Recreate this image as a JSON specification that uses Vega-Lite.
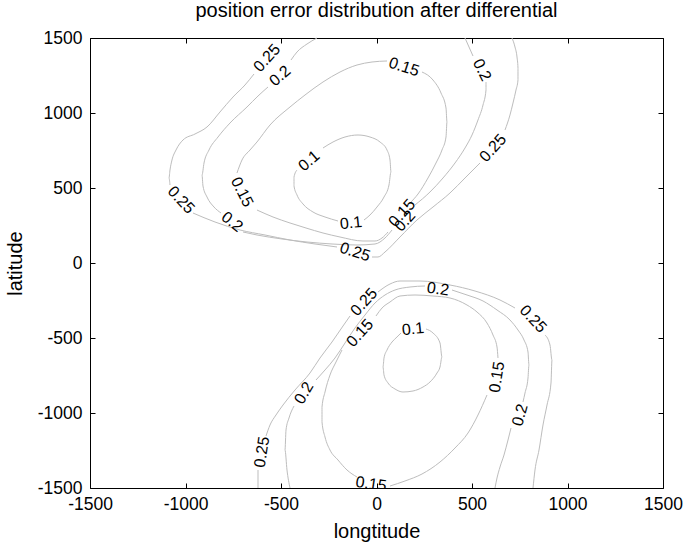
{
  "$schema": "https://vega.github.io/schema/vega-lite/v6.json",
  "width": 573,
  "height": 450,
  "autosize": {"type": "none"},
  "padding": {"left": 90, "top": 38, "right": 23, "bottom": 60},
  "background": "white",
  "config": {
    "font": "Liberation Sans",
    "view": {"stroke": "black", "strokeWidth": 1},
    "axis": {"domain": false, "grid": false, "tickColor": "black", "tickSize": -5, "tickWidth": 1, "labelColor": "black", "labelFontSize": 17.5, "titleFontSize": 20, "titleFontWeight": "normal", "titleColor": "black", "labelFont": "Liberation Sans", "titleFont": "Liberation Sans", "labelExpr": "toString(datum.value)"},
    "title": {"fontSize": 20, "fontWeight": "normal", "font": "Liberation Sans", "color": "black", "offset": 8}
  },
  "title": "position error distribution after differential",
  "datasets": {
    "lines": [
      {"c": "U25a", "i": 0, "x": -641.4, "y": 1260}, {"c": "U25a", "i": 1, "x": -688.5, "y": 1186.7}, {"c": "U25a", "i": 2, "x": -751.3, "y": 1106.7}, {"c": "U25a", "i": 3, "x": -819.4, "y": 1006.7}, {"c": "U25a", "i": 4, "x": -887.4, "y": 906.7}, {"c": "U25a", "i": 5, "x": -950.3, "y": 860}, {"c": "U25a", "i": 6, "x": -1013.1, "y": 820}, {"c": "U25a", "i": 7, "x": -1049.7, "y": 753.3}, {"c": "U25a", "i": 8, "x": -1070.7, "y": 686.7}, {"c": "U25a", "i": 9, "x": -1081.2, "y": 620}, {"c": "U25a", "i": 10, "x": -1086.4, "y": 566.7}, {"c": "U25a", "i": 11, "x": -1081.2, "y": 520},
      {"c": "U25b", "i": 0, "x": -960.7, "y": 333.3}, {"c": "U25b", "i": 1, "x": -845.5, "y": 273.3}, {"c": "U25b", "i": 2, "x": -714.7, "y": 220}, {"c": "U25b", "i": 3, "x": -583.8, "y": 186.7}, {"c": "U25b", "i": 4, "x": -452.9, "y": 153.3}, {"c": "U25b", "i": 5, "x": -322, "y": 126.7}, {"c": "U25b", "i": 6, "x": -206.8, "y": 106.7},
      {"c": "U25c", "i": 0, "x": -23.6, "y": 40}, {"c": "U25c", "i": 1, "x": 7.9, "y": 40}, {"c": "U25c", "i": 2, "x": 44.5, "y": 73.3}, {"c": "U25c", "i": 3, "x": 123, "y": 173.3}, {"c": "U25c", "i": 4, "x": 212, "y": 286.7}, {"c": "U25c", "i": 5, "x": 295.8, "y": 373.3}, {"c": "U25c", "i": 6, "x": 384.8, "y": 466.7}, {"c": "U25c", "i": 7, "x": 463.4, "y": 566.7}, {"c": "U25c", "i": 8, "x": 541.9, "y": 666.7},
      {"c": "U25d", "i": 0, "x": 672.8, "y": 886.7}, {"c": "U25d", "i": 1, "x": 698.9, "y": 986.7}, {"c": "U25d", "i": 2, "x": 714.7, "y": 1066.7}, {"c": "U25d", "i": 3, "x": 730.4, "y": 1153.3}, {"c": "U25d", "i": 4, "x": 740.8, "y": 1220}, {"c": "U25d", "i": 5, "x": 740.8, "y": 1300}, {"c": "U25d", "i": 6, "x": 735.6, "y": 1373.3}, {"c": "U25d", "i": 7, "x": 725.1, "y": 1440}, {"c": "U25d", "i": 8, "x": 709.4, "y": 1500},
      {"c": "U20a", "i": 0, "x": -311.5, "y": 1500}, {"c": "U20a", "i": 1, "x": -363.9, "y": 1460}, {"c": "U20a", "i": 2, "x": -416.2, "y": 1406.7}, {"c": "U20a", "i": 3, "x": -447.6, "y": 1353.3},
      {"c": "U20b", "i": 0, "x": -568.1, "y": 1173.3}, {"c": "U20b", "i": 1, "x": -620.4, "y": 1113.3}, {"c": "U20b", "i": 2, "x": -678, "y": 1040}, {"c": "U20b", "i": 3, "x": -767, "y": 933.3}, {"c": "U20b", "i": 4, "x": -829.8, "y": 840}, {"c": "U20b", "i": 5, "x": -877, "y": 753.3}, {"c": "U20b", "i": 6, "x": -903.1, "y": 666.7}, {"c": "U20b", "i": 7, "x": -913.6, "y": 586.7}, {"c": "U20b", "i": 8, "x": -908.4, "y": 513.3}, {"c": "U20b", "i": 9, "x": -887.4, "y": 440}, {"c": "U20b", "i": 10, "x": -850.8, "y": 373.3}, {"c": "U20b", "i": 11, "x": -814.1, "y": 333.3},
      {"c": "U20c", "i": 0, "x": -698.9, "y": 206.7}, {"c": "U20c", "i": 1, "x": -625.7, "y": 186.7}, {"c": "U20c", "i": 2, "x": -494.8, "y": 160}, {"c": "U20c", "i": 3, "x": -363.9, "y": 140}, {"c": "U20c", "i": 4, "x": -233, "y": 126.7}, {"c": "U20c", "i": 5, "x": -102.1, "y": 120}, {"c": "U20c", "i": 6, "x": -7.9, "y": 126.7}, {"c": "U20c", "i": 7, "x": 44.5, "y": 166.7}, {"c": "U20c", "i": 8, "x": 81.2, "y": 220},
      {"c": "U20d", "i": 0, "x": 201.6, "y": 386.7}, {"c": "U20d", "i": 1, "x": 280.1, "y": 473.3}, {"c": "U20d", "i": 2, "x": 348.2, "y": 566.7}, {"c": "U20d", "i": 3, "x": 411, "y": 666.7}, {"c": "U20d", "i": 4, "x": 463.4, "y": 766.7}, {"c": "U20d", "i": 5, "x": 500, "y": 853.3}, {"c": "U20d", "i": 6, "x": 531.4, "y": 953.3}, {"c": "U20d", "i": 7, "x": 557.6, "y": 1053.3}, {"c": "U20d", "i": 8, "x": 573.3, "y": 1153.3}, {"c": "U20d", "i": 9, "x": 573.3, "y": 1206.7},
      {"c": "U20e", "i": 0, "x": 505.2, "y": 1380}, {"c": "U20e", "i": 1, "x": 484.3, "y": 1440}, {"c": "U20e", "i": 2, "x": 463.4, "y": 1500},
      {"c": "U15a", "i": 0, "x": 238.2, "y": 1273.3}, {"c": "U15a", "i": 1, "x": 295.8, "y": 1220}, {"c": "U15a", "i": 2, "x": 337.7, "y": 1133.3}, {"c": "U15a", "i": 3, "x": 363.9, "y": 1033.3}, {"c": "U15a", "i": 4, "x": 369.1, "y": 940}, {"c": "U15a", "i": 5, "x": 363.9, "y": 840}, {"c": "U15a", "i": 6, "x": 342.9, "y": 753.3}, {"c": "U15a", "i": 7, "x": 311.5, "y": 666.7}, {"c": "U15a", "i": 8, "x": 269.6, "y": 566.7}, {"c": "U15a", "i": 9, "x": 217.3, "y": 460}, {"c": "U15a", "i": 10, "x": 175.4, "y": 400},
      {"c": "U15b", "i": 0, "x": 60.2, "y": 206.7}, {"c": "U15b", "i": 1, "x": 28.8, "y": 166.7}, {"c": "U15b", "i": 2, "x": -7.9, "y": 146.7}, {"c": "U15b", "i": 3, "x": -70.7, "y": 146.7}, {"c": "U15b", "i": 4, "x": -191.1, "y": 173.3}, {"c": "U15b", "i": 5, "x": -280.1, "y": 200}, {"c": "U15b", "i": 6, "x": -369.1, "y": 233.3}, {"c": "U15b", "i": 7, "x": -452.9, "y": 266.7}, {"c": "U15b", "i": 8, "x": -541.9, "y": 306.7}, {"c": "U15b", "i": 9, "x": -625.7, "y": 353.3},
      {"c": "U15c", "i": 0, "x": -730.4, "y": 600}, {"c": "U15c", "i": 1, "x": -704.2, "y": 686.7}, {"c": "U15c", "i": 2, "x": -662.3, "y": 753.3}, {"c": "U15c", "i": 3, "x": -625.7, "y": 806.7}, {"c": "U15c", "i": 4, "x": -557.6, "y": 920}, {"c": "U15c", "i": 5, "x": -452.9, "y": 1040}, {"c": "U15c", "i": 6, "x": -374.3, "y": 1120}, {"c": "U15c", "i": 7, "x": -280.1, "y": 1206.7}, {"c": "U15c", "i": 8, "x": -191.1, "y": 1273.3}, {"c": "U15c", "i": 9, "x": -102.1, "y": 1320}, {"c": "U15c", "i": 10, "x": -23.6, "y": 1340}, {"c": "U15c", "i": 11, "x": 55, "y": 1346.7},
      {"c": "U10a", "i": 0, "x": -280.1, "y": 766.7}, {"c": "U10a", "i": 1, "x": -227.7, "y": 806.7}, {"c": "U10a", "i": 2, "x": -164.9, "y": 840}, {"c": "U10a", "i": 3, "x": -96.9, "y": 853.3}, {"c": "U10a", "i": 4, "x": -34, "y": 840}, {"c": "U10a", "i": 5, "x": 18.3, "y": 806.7}, {"c": "U10a", "i": 6, "x": 55, "y": 753.3}, {"c": "U10a", "i": 7, "x": 70.7, "y": 686.7}, {"c": "U10a", "i": 8, "x": 75.9, "y": 606.7}, {"c": "U10a", "i": 9, "x": 65.4, "y": 520}, {"c": "U10a", "i": 10, "x": 39.3, "y": 440}, {"c": "U10a", "i": 11, "x": 2.6, "y": 373.3}, {"c": "U10a", "i": 12, "x": -34, "y": 320}, {"c": "U10a", "i": 13, "x": -65.4, "y": 286.7},
      {"c": "U10b", "i": 0, "x": -201.6, "y": 280}, {"c": "U10b", "i": 1, "x": -269.6, "y": 306.7}, {"c": "U10b", "i": 2, "x": -332.5, "y": 340}, {"c": "U10b", "i": 3, "x": -384.8, "y": 393.3}, {"c": "U10b", "i": 4, "x": -416.2, "y": 453.3}, {"c": "U10b", "i": 5, "x": -431.9, "y": 513.3}, {"c": "U10b", "i": 6, "x": -431.9, "y": 573.3}, {"c": "U10b", "i": 7, "x": -416.2, "y": 620},
      {"c": "L25a", "i": 0, "x": -620.4, "y": -1500}, {"c": "L25a", "i": 1, "x": -620.4, "y": -1380},
      {"c": "L25b", "i": 0, "x": -578.5, "y": -1153.3}, {"c": "L25b", "i": 1, "x": -557.6, "y": -1080}, {"c": "L25b", "i": 2, "x": -526.2, "y": -1013.3}, {"c": "L25b", "i": 3, "x": -489.5, "y": -946.7}, {"c": "L25b", "i": 4, "x": -426.7, "y": -846.7}, {"c": "L25b", "i": 5, "x": -348.2, "y": -733.3}, {"c": "L25b", "i": 6, "x": -295.8, "y": -633.3}, {"c": "L25b", "i": 7, "x": -233, "y": -526.7}, {"c": "L25b", "i": 8, "x": -175.4, "y": -420}, {"c": "L25b", "i": 9, "x": -138.7, "y": -353.3},
      {"c": "L25c", "i": 0, "x": 7.9, "y": -193.3}, {"c": "L25c", "i": 1, "x": 70.7, "y": -140}, {"c": "L25c", "i": 2, "x": 123, "y": -120}, {"c": "L25c", "i": 3, "x": 227.7, "y": -120}, {"c": "L25c", "i": 4, "x": 384.8, "y": -146.7}, {"c": "L25c", "i": 5, "x": 515.7, "y": -186.7}, {"c": "L25c", "i": 6, "x": 646.6, "y": -246.7}, {"c": "L25c", "i": 7, "x": 725.1, "y": -300},
      {"c": "L25d", "i": 0, "x": 882.2, "y": -480}, {"c": "L25d", "i": 1, "x": 908.4, "y": -546.7}, {"c": "L25d", "i": 2, "x": 918.8, "y": -646.7}, {"c": "L25d", "i": 3, "x": 913.6, "y": -800}, {"c": "L25d", "i": 4, "x": 892.7, "y": -946.7}, {"c": "L25d", "i": 5, "x": 871.7, "y": -1080}, {"c": "L25d", "i": 6, "x": 850.8, "y": -1246.7}, {"c": "L25d", "i": 7, "x": 829.8, "y": -1380}, {"c": "L25d", "i": 8, "x": 819.4, "y": -1500},
      {"c": "L20a", "i": 0, "x": -452.9, "y": -1500}, {"c": "L20a", "i": 1, "x": -468.6, "y": -1380}, {"c": "L20a", "i": 2, "x": -479.1, "y": -1246.7}, {"c": "L20a", "i": 3, "x": -473.8, "y": -1113.3}, {"c": "L20a", "i": 4, "x": -458.1, "y": -1033.3}, {"c": "L20a", "i": 5, "x": -431.9, "y": -953.3},
      {"c": "L20b", "i": 0, "x": -316.8, "y": -780}, {"c": "L20b", "i": 1, "x": -269.6, "y": -713.3}, {"c": "L20b", "i": 2, "x": -217.3, "y": -633.3}, {"c": "L20b", "i": 3, "x": -164.9, "y": -533.3}, {"c": "L20b", "i": 4, "x": -112.6, "y": -433.3}, {"c": "L20b", "i": 5, "x": -60.2, "y": -346.7}, {"c": "L20b", "i": 6, "x": -7.9, "y": -266.7}, {"c": "L20b", "i": 7, "x": 44.5, "y": -213.3}, {"c": "L20b", "i": 8, "x": 96.9, "y": -180}, {"c": "L20b", "i": 9, "x": 175.4, "y": -160}, {"c": "L20b", "i": 10, "x": 253.9, "y": -153.3},
      {"c": "L20c", "i": 0, "x": 395.3, "y": -180}, {"c": "L20c", "i": 1, "x": 473.8, "y": -213.3}, {"c": "L20c", "i": 2, "x": 557.6, "y": -253.3}, {"c": "L20c", "i": 3, "x": 630.9, "y": -313.3}, {"c": "L20c", "i": 4, "x": 698.9, "y": -380}, {"c": "L20c", "i": 5, "x": 740.8, "y": -446.7}, {"c": "L20c", "i": 6, "x": 772.3, "y": -513.3}, {"c": "L20c", "i": 7, "x": 793.2, "y": -593.3}, {"c": "L20c", "i": 8, "x": 798.4, "y": -680}, {"c": "L20c", "i": 9, "x": 793.2, "y": -766.7}, {"c": "L20c", "i": 10, "x": 777.5, "y": -866.7}, {"c": "L20c", "i": 11, "x": 767, "y": -926.7},
      {"c": "L20d", "i": 0, "x": 704.2, "y": -1100}, {"c": "L20d", "i": 1, "x": 688.5, "y": -1180}, {"c": "L20d", "i": 2, "x": 667.5, "y": -1280}, {"c": "L20d", "i": 3, "x": 646.6, "y": -1360}, {"c": "L20d", "i": 4, "x": 630.9, "y": -1433.3}, {"c": "L20d", "i": 5, "x": 620.4, "y": -1500},
      {"c": "L15a", "i": 0, "x": -2.6, "y": -353.3}, {"c": "L15a", "i": 1, "x": 28.8, "y": -300}, {"c": "L15a", "i": 2, "x": 70.7, "y": -260}, {"c": "L15a", "i": 3, "x": 123, "y": -220}, {"c": "L15a", "i": 4, "x": 201.6, "y": -213.3}, {"c": "L15a", "i": 5, "x": 295.8, "y": -220}, {"c": "L15a", "i": 6, "x": 384.8, "y": -233.3}, {"c": "L15a", "i": 7, "x": 473.8, "y": -280}, {"c": "L15a", "i": 8, "x": 526.2, "y": -326.7}, {"c": "L15a", "i": 9, "x": 578.5, "y": -400}, {"c": "L15a", "i": 10, "x": 609.9, "y": -480}, {"c": "L15a", "i": 11, "x": 630.9, "y": -560}, {"c": "L15a", "i": 12, "x": 636.1, "y": -633.3},
      {"c": "L15b", "i": 0, "x": 578.5, "y": -880}, {"c": "L15b", "i": 1, "x": 531.4, "y": -1013.3}, {"c": "L15b", "i": 2, "x": 479.1, "y": -1133.3}, {"c": "L15b", "i": 3, "x": 411, "y": -1233.3}, {"c": "L15b", "i": 4, "x": 332.5, "y": -1326.7}, {"c": "L15b", "i": 5, "x": 238.2, "y": -1406.7}, {"c": "L15b", "i": 6, "x": 149.2, "y": -1453.3}, {"c": "L15b", "i": 7, "x": 70.7, "y": -1486.7},
      {"c": "L15c", "i": 0, "x": -102.1, "y": -1426.7}, {"c": "L15c", "i": 1, "x": -154.5, "y": -1380}, {"c": "L15c", "i": 2, "x": -201.6, "y": -1313.3}, {"c": "L15c", "i": 3, "x": -243.5, "y": -1246.7}, {"c": "L15c", "i": 4, "x": -269.6, "y": -1160}, {"c": "L15c", "i": 5, "x": -285.3, "y": -1060}, {"c": "L15c", "i": 6, "x": -285.3, "y": -960}, {"c": "L15c", "i": 7, "x": -269.6, "y": -860}, {"c": "L15c", "i": 8, "x": -243.5, "y": -746.7}, {"c": "L15c", "i": 9, "x": -212, "y": -660}, {"c": "L15c", "i": 10, "x": -180.6, "y": -580},
      {"c": "L10", "i": 0, "x": 259.2, "y": -440}, {"c": "L10", "i": 1, "x": 295.8, "y": -466.7}, {"c": "L10", "i": 2, "x": 332.5, "y": -533.3}, {"c": "L10", "i": 3, "x": 342.9, "y": -626.7}, {"c": "L10", "i": 4, "x": 332.5, "y": -693.3}, {"c": "L10", "i": 5, "x": 316.8, "y": -733.3}, {"c": "L10", "i": 6, "x": 280.1, "y": -793.3}, {"c": "L10", "i": 7, "x": 243.5, "y": -826.7}, {"c": "L10", "i": 8, "x": 191.1, "y": -853.3}, {"c": "L10", "i": 9, "x": 138.7, "y": -860}, {"c": "L10", "i": 10, "x": 96.9, "y": -840}, {"c": "L10", "i": 11, "x": 60.2, "y": -800}, {"c": "L10", "i": 12, "x": 39.3, "y": -746.7}, {"c": "L10", "i": 13, "x": 34, "y": -693.3}, {"c": "L10", "i": 14, "x": 39.3, "y": -633.3}, {"c": "L10", "i": 15, "x": 55, "y": -580}, {"c": "L10", "i": 16, "x": 81.2, "y": -526.7}, {"c": "L10", "i": 17, "x": 107.3, "y": -493.3}, {"c": "L10", "i": 18, "x": 128.3, "y": -466.7}
    ],
    "labels": [
      {"id": 1, "t": "0.25", "x": -573.3, "y": 1366.7},
      {"id": 2, "t": "0.2", "x": -505.2, "y": 1246.7},
      {"id": 3, "t": "0.25", "x": -1023.6, "y": 420},
      {"id": 4, "t": "0.2", "x": -756.5, "y": 273.3},
      {"id": 5, "t": "0.15", "x": -704.2, "y": 473.3},
      {"id": 6, "t": "0.1", "x": -353.4, "y": 680},
      {"id": 7, "t": "0.1", "x": -133.5, "y": 266.7},
      {"id": 8, "t": "0.25", "x": -112.6, "y": 73.3},
      {"id": 9, "t": "0.15", "x": 144, "y": 1306.7},
      {"id": 10, "t": "0.2", "x": 552.4, "y": 1286.7},
      {"id": 11, "t": "0.25", "x": 609.9, "y": 766.7},
      {"id": 12, "t": "0.15", "x": 133.5, "y": 333.3},
      {"id": 13, "t": "0.2", "x": 149.2, "y": 280},
      {"id": 14, "t": "0.25", "x": -65.4, "y": -260},
      {"id": 15, "t": "0.15", "x": -86.4, "y": -466.7},
      {"id": 16, "t": "0.2", "x": 322, "y": -173.3},
      {"id": 17, "t": "0.1", "x": 191.1, "y": -440},
      {"id": 18, "t": "0.25", "x": 819.4, "y": -373.3},
      {"id": 19, "t": "0.15", "x": 630.9, "y": -760},
      {"id": 20, "t": "0.2", "x": 751.3, "y": -1013.3},
      {"id": 21, "t": "0.2", "x": -379.6, "y": -866.7},
      {"id": 22, "t": "0.25", "x": -599.5, "y": -1260},
      {"id": 23, "t": "0.15", "x": -28.8, "y": -1473.3}
    ]
  },
  "layer": [
    {
      "data": {"name": "lines"},
      "mark": {"type": "line", "stroke": "#bdbdbd", "strokeWidth": 1, "interpolate": "monotone"},
      "encoding": {
        "x": {"field": "x", "type": "quantitative", "scale": {"domain": [-1500, 1500], "nice": false, "zero": false}, "axis": {"orient": "bottom", "values": [-1500, -1000, -500, 0, 500, 1000, 1500], "title": "longtitude", "labelPadding": 12, "titlePadding": 9, "labelFlush": false, "labelOverlap": false}},
        "y": {"field": "y", "type": "quantitative", "scale": {"domain": [-1500, 1500], "nice": false, "zero": false}, "axis": {"orient": "left", "values": [-1500, -1000, -500, 0, 500, 1000, 1500], "title": "latitude", "labelPadding": 13, "titlePadding": 12, "labelOverlap": false}},
        "detail": {"field": "c", "type": "nominal"},
        "order": {"field": "i", "type": "quantitative"}
      }
    },
    {
      "data": {"name": "labels"},
      "transform": [{"filter": {"field": "id", "oneOf": [1, 11, 12, 13, 14, 15]}}],
      "mark": {"type": "text", "angle": -48, "fontSize": 16, "font": "Liberation Sans", "color": "black", "align": "center", "baseline": "middle"},
      "encoding": {
        "x": {"field": "x", "type": "quantitative", "axis": {"orient": "top", "values": [-1500, -1000, -500, 0, 500, 1000, 1500], "labels": false, "title": null}},
        "y": {"field": "y", "type": "quantitative", "axis": {"orient": "right", "values": [-1500, -1000, -500, 0, 500, 1000, 1500], "labels": false, "title": null}},
        "text": {"field": "t"}
      }
    },
    {
      "data": {"name": "labels"},
      "transform": [{"filter": {"field": "id", "oneOf": [2, 6]}}],
      "mark": {"type": "text", "angle": -41, "fontSize": 16, "font": "Liberation Sans", "color": "black", "align": "center", "baseline": "middle"},
      "encoding": {"x": {"field": "x", "type": "quantitative", "axis": null}, "y": {"field": "y", "type": "quantitative", "axis": null}, "text": {"field": "t"}}
    },
    {
      "data": {"name": "labels"},
      "transform": [{"filter": {"field": "id", "oneOf": [3, 18]}}],
      "mark": {"type": "text", "angle": 47, "fontSize": 16, "font": "Liberation Sans", "color": "black", "align": "center", "baseline": "middle"},
      "encoding": {"x": {"field": "x", "type": "quantitative", "axis": null}, "y": {"field": "y", "type": "quantitative", "axis": null}, "text": {"field": "t"}}
    },
    {
      "data": {"name": "labels"},
      "transform": [{"filter": {"field": "id", "oneOf": [4]}}],
      "mark": {"type": "text", "angle": 38, "fontSize": 16, "font": "Liberation Sans", "color": "black", "align": "center", "baseline": "middle"},
      "encoding": {"x": {"field": "x", "type": "quantitative", "axis": null}, "y": {"field": "y", "type": "quantitative", "axis": null}, "text": {"field": "t"}}
    },
    {
      "data": {"name": "labels"},
      "transform": [{"filter": {"field": "id", "oneOf": [5, 10]}}],
      "mark": {"type": "text", "angle": 63, "fontSize": 16, "font": "Liberation Sans", "color": "black", "align": "center", "baseline": "middle"},
      "encoding": {"x": {"field": "x", "type": "quantitative", "axis": null}, "y": {"field": "y", "type": "quantitative", "axis": null}, "text": {"field": "t"}}
    },
    {
      "data": {"name": "labels"},
      "transform": [{"filter": {"field": "id", "oneOf": [7, 17]}}],
      "mark": {"type": "text", "angle": -6, "fontSize": 16, "font": "Liberation Sans", "color": "black", "align": "center", "baseline": "middle"},
      "encoding": {"x": {"field": "x", "type": "quantitative", "axis": null}, "y": {"field": "y", "type": "quantitative", "axis": null}, "text": {"field": "t"}}
    },
    {
      "data": {"name": "labels"},
      "transform": [{"filter": {"field": "id", "oneOf": [8, 9]}}],
      "mark": {"type": "text", "angle": 18, "fontSize": 16, "font": "Liberation Sans", "color": "black", "align": "center", "baseline": "middle"},
      "encoding": {"x": {"field": "x", "type": "quantitative", "axis": null}, "y": {"field": "y", "type": "quantitative", "axis": null}, "text": {"field": "t"}}
    },
    {
      "data": {"name": "labels"},
      "transform": [{"filter": {"field": "id", "oneOf": [16, 23]}}],
      "mark": {"type": "text", "angle": 8, "fontSize": 16, "font": "Liberation Sans", "color": "black", "align": "center", "baseline": "middle", "clip": true},
      "encoding": {"x": {"field": "x", "type": "quantitative", "axis": null}, "y": {"field": "y", "type": "quantitative", "axis": null}, "text": {"field": "t"}}
    },
    {
      "data": {"name": "labels"},
      "transform": [{"filter": {"field": "id", "oneOf": [19, 22]}}],
      "mark": {"type": "text", "angle": -81, "fontSize": 16, "font": "Liberation Sans", "color": "black", "align": "center", "baseline": "middle"},
      "encoding": {"x": {"field": "x", "type": "quantitative", "axis": null}, "y": {"field": "y", "type": "quantitative", "axis": null}, "text": {"field": "t"}}
    },
    {
      "data": {"name": "labels"},
      "transform": [{"filter": {"field": "id", "oneOf": [20]}}],
      "mark": {"type": "text", "angle": -75, "fontSize": 16, "font": "Liberation Sans", "color": "black", "align": "center", "baseline": "middle"},
      "encoding": {"x": {"field": "x", "type": "quantitative", "axis": null}, "y": {"field": "y", "type": "quantitative", "axis": null}, "text": {"field": "t"}}
    },
    {
      "data": {"name": "labels"},
      "transform": [{"filter": {"field": "id", "oneOf": [21]}}],
      "mark": {"type": "text", "angle": -60, "fontSize": 16, "font": "Liberation Sans", "color": "black", "align": "center", "baseline": "middle"},
      "encoding": {"x": {"field": "x", "type": "quantitative", "axis": null}, "y": {"field": "y", "type": "quantitative", "axis": null}, "text": {"field": "t"}}
    }
  ]
}
